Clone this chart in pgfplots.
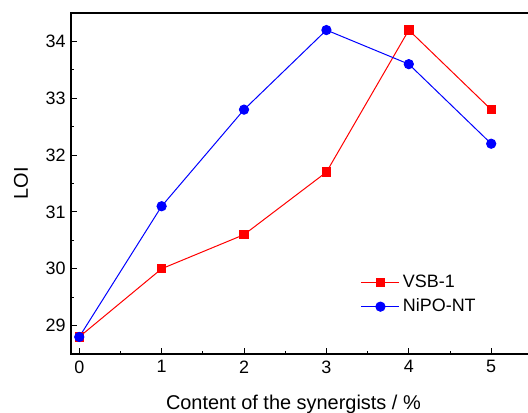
\documentclass[border=0pt]{standalone}
\usepackage{pgfplots}
\pgfplotsset{compat=1.18}
\usepackage{fontspec}
\setmainfont{Liberation Sans}

\definecolor{vsbred}{RGB}{255,0,0}
\definecolor{niblue}{RGB}{0,0,255}

\begin{document}
\begin{tikzpicture}
% fixed page area; the right end of the frame runs off the page
\useasboundingbox (0,0) rectangle (528bp,413bp);
\begin{axis}[
  at={(71bp,59bp)}, anchor=south west,
  scale only axis,
  width=461.4bp, height=341bp,
  xmin=-0.1, xmax=5.5,
  ymin=28.5, ymax=34.5,
  xtick={0,1,2,3,4,5},
  ytick={29,30,31,32,33,34},
  minor tick num=1,
  tick align=inside,
  xtick pos=bottom, ytick pos=left,
  major tick length=6bp, minor tick length=3bp,
  axis line style={line width=1.2bp},
  every tick/.style={black, line width=1bp},
  /pgf/number format/assume math mode=true,
  ticklabel style={font=\fontsize{18}{21}\selectfont},
  xticklabel style={yshift=-3bp},
  yticklabel style={xshift=-2bp},
  label style={font=\fontsize{20}{24}\selectfont},
  xlabel={Content of the synergists / \%},
  ylabel={LOI},
  xlabel style={at={(axis description cs:0.482,-0.164)}, anchor=base},
  ylabel style={at={(axis description cs:-0.1084,0.5)}, anchor=center},
  legend cell align=left,
  legend style={draw=none, fill=none,
    at={(axis description cs:0.628,0.245)}, anchor=north west,
    inner sep=0pt, column sep=0pt,
    font=\fontsize{18}{21}\selectfont,
    nodes={inner sep=3bp, text height=14bp, text depth=4bp}},
  legend image code/.code={%
    \draw[mark repeat=2, mark phase=2, #1]
      plot coordinates {(0bp,0bp) (19bp,0bp) (38bp,0bp)};},
]
\addplot[color=vsbred, line width=1bp, mark=square*,
  mark size=4.2bp, mark options={solid, fill=vsbred}]
  coordinates {(0,28.8) (1,30.0) (2,30.6) (3,31.7) (4,34.2) (5,32.8)};
\addlegendentry{VSB-1}
\addplot[color=niblue, line width=1bp, mark=*,
  mark size=4.6bp, mark options={solid, fill=niblue}]
  coordinates {(0,28.8) (1,31.1) (2,32.8) (3,34.2) (4,33.6) (5,32.2)};
\addlegendentry{NiPO-NT}
% top frame line (no right spine inside the page)
\draw[line width=1.2bp] (rel axis cs:0,1) -- (rel axis cs:1,1);
\end{axis}
\end{tikzpicture}
\end{document}
